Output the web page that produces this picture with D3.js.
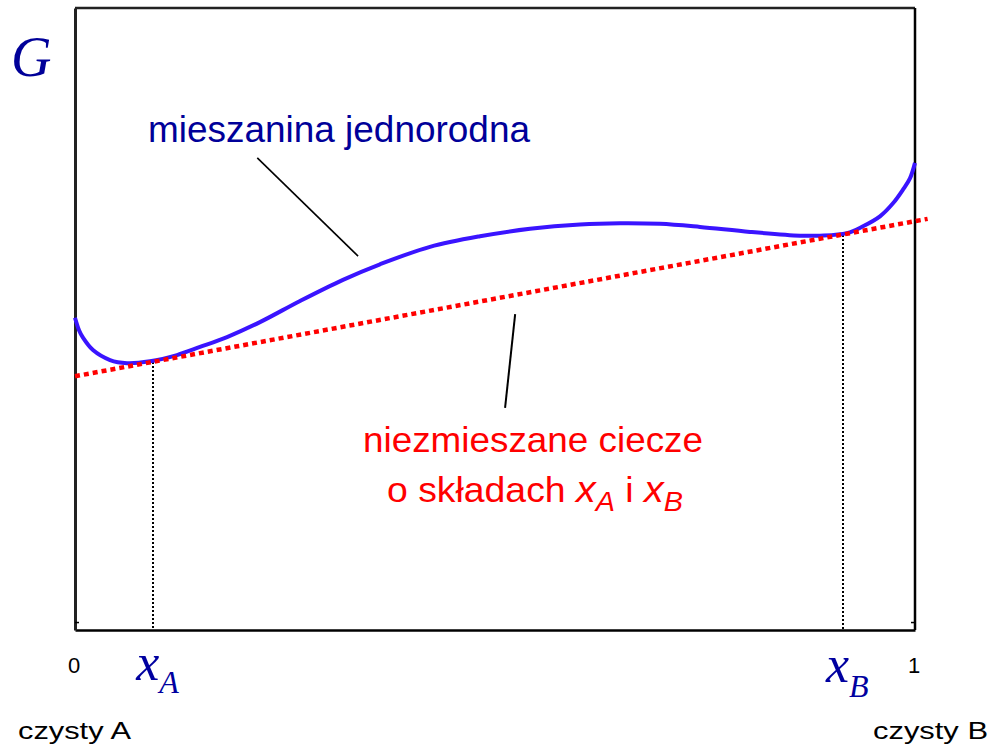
<!DOCTYPE html>
<html>
<head>
<meta charset="utf-8">
<script src="https://cdn.jsdelivr.net/npm/d3@7"></script>
<style>
  html, body { margin: 0; padding: 0; background: #fff; }
  svg { display: block; }
  text { font-family: "Liberation Sans", Arial, sans-serif; }
  .serif { font-family: "Liberation Serif", "Times New Roman", serif; font-style: italic; }
</style>
</head>
<body>
<svg id="chart" width="1003" height="747"></svg>
<script>
// Mole fraction of B (0 = pure A, 1 = pure B)
const compositions = [0, 0.0048, 0.0095, 0.0214, 0.0417, 0.0619, 0.0893, 0.1214, 0.1488,
  0.1810, 0.2202, 0.2679, 0.3190, 0.3631, 0.4226, 0.4821, 0.5417, 0.6012, 0.6488, 0.6964,
  0.7440, 0.8036, 0.8631, 0.8869, 0.9190, 0.9381, 0.9583, 0.9738, 0.9857, 0.9940, 1.0];
// Gibbs energy of the homogeneous mixture (arbitrary units)
const gibbsMixture = [5.02, 4.82, 4.70, 4.50, 4.34, 4.29, 4.32, 4.42, 4.55,
  4.71, 4.95, 5.29, 5.63, 5.88, 6.16, 6.33, 6.45, 6.52, 6.54, 6.53,
  6.48, 6.40, 6.34, 6.34, 6.38, 6.49, 6.65, 6.86, 7.08, 7.26, 7.51];
// Common tangent: two immiscible liquids of compositions xA and xB
const tangentX = [0, 1.015];
const tangentG = [4.08, 6.61];
const xA = 0.092;
const xB = 0.913;
const xTickLabels = ["0", "1"];

const svg = d3.select("#chart");
const plotLeft = 75, plotTop = 8, plotWidth = 840, plotHeight = 622;

const x = d3.scaleLinear().domain([0, 1]).range([plotLeft, plotLeft + plotWidth]);
const y = d3.scaleLinear().domain([0, 10]).range([plotTop + plotHeight, plotTop]);
const gAt = v => tangentG[0] + (tangentG[1] - tangentG[0]) * (v - tangentX[0]) / (tangentX[1] - tangentX[0]);

// Frame: axes plus closing lines
svg.append("g")
  .attr("transform", `translate(0,${y(0)})`)
  .call(d3.axisBottom(x).tickValues([]).tickSizeOuter(0))
  .call(g => g.select(".domain").attr("stroke", "#000").attr("stroke-width", 2.5));
svg.append("g")
  .attr("transform", `translate(${x(0)},0)`)
  .call(d3.axisLeft(y).tickValues([]).tickSizeOuter(0))
  .call(g => g.select(".domain").attr("stroke", "#222").attr("stroke-width", 3));
svg.append("line").attr("x1", x(0)).attr("x2", x(1)).attr("y1", y(10)).attr("y2", y(10))
  .attr("stroke", "#222").attr("stroke-width", 2.5);
svg.append("line").attr("x1", x(1)).attr("x2", x(1)).attr("y1", y(10)).attr("y2", y(0))
  .attr("stroke", "#000").attr("stroke-width", 2.5);
// small inner ticks at the ends of the composition axis
[0, 1].forEach(v => {
  svg.append("line").attr("x1", x(v)).attr("x2", x(v) + (v === 0 ? 4 : -4))
    .attr("y1", y(0.12)).attr("y2", y(0.12)).attr("stroke", "#000").attr("stroke-width", 1.5);
});

// Vertical dotted guides at the tangent points
[xA, xB].forEach(v => {
  const px = Math.round(x(v)) + 0.5;
  svg.append("line")
    .attr("x1", px).attr("x2", px)
    .attr("y1", y(gAt(v))).attr("y2", y(0))
    .attr("stroke", "#000").attr("stroke-width", 2)
    .attr("stroke-dasharray", "2,2")
    .attr("shape-rendering", "crispEdges");
});

// Homogeneous mixture curve
const pts = compositions.map((c, i) => [c, gibbsMixture[i]]);
svg.append("path")
  .datum(pts)
  .attr("fill", "none")
  .attr("stroke", "#3a14ff")
  .attr("stroke-width", 4)
  .attr("stroke-linejoin", "round")
  .attr("d", d3.line().x(d => x(d[0])).y(d => y(d[1])).curve(d3.curveCatmullRom.alpha(0.5)));

// Tangent (immiscible liquids) line
svg.append("line")
  .attr("x1", x(tangentX[0])).attr("y1", y(tangentG[0]))
  .attr("x2", x(tangentX[1])).attr("y2", y(tangentG[1]))
  .attr("stroke", "#ff0000").attr("stroke-width", 4.5)
  .attr("stroke-dasharray", "5,4");

// Leader lines
const leaders = [
  [[0.217, 7.59], [0.337, 6.01], 1.6],
  [[0.524, 5.08], [0.512, 3.57], 2]
];
leaders.forEach(([a, b, w]) => {
  svg.append("line")
    .attr("x1", x(a[0])).attr("y1", y(a[1]))
    .attr("x2", x(b[0])).attr("y2", y(b[1]))
    .attr("stroke", "#000").attr("stroke-width", w);
});

// Labels
svg.append("text").attr("class", "serif")
  .attr("x", 11).attr("y", 76)
  .attr("font-size", 56).attr("fill", "#000099").text("G");

svg.append("text")
  .attr("x", 148).attr("y", 142)
  .attr("font-size", 36).attr("fill", "#000099")
  .attr("textLength", 382).attr("lengthAdjust", "spacingAndGlyphs")
  .text("mieszanina jednorodna");

svg.append("text")
  .attr("x", 363).attr("y", 452)
  .attr("font-size", 35).attr("fill", "#ff0000")
  .attr("textLength", 340).attr("lengthAdjust", "spacingAndGlyphs")
  .text("niezmieszane ciecze");

const t2 = svg.append("text")
  .attr("x", 387).attr("y", 502)
  .attr("font-size", 35).attr("fill", "#ff0000")
  .attr("textLength", 296).attr("lengthAdjust", "spacingAndGlyphs");
t2.append("tspan").text("o składach ");
t2.append("tspan").attr("font-style", "italic").attr("font-size", 37).text("x");
t2.append("tspan").attr("font-style", "italic").attr("font-size", 27).attr("dy", 9).text("A");
t2.append("tspan").attr("dy", -9).text(" i ");
t2.append("tspan").attr("font-style", "italic").attr("font-size", 37).text("x");
t2.append("tspan").attr("font-style", "italic").attr("font-size", 27).attr("dy", 9).text("B");

// Composition axis tick labels
[[0, xTickLabels[0]], [1, xTickLabels[1]]].forEach(([v, s]) => {
  svg.append("text")
    .attr("x", x(v) - 1).attr("y", 673)
    .attr("text-anchor", "middle")
    .attr("font-size", 22).attr("fill", "#000").text(s);
});

// xA, xB labels
[[xA, "A", 680, 693], [xB, "B", 682, 697]].forEach(([v, sub, b1, b2]) => {
  const t = svg.append("text").attr("class", "serif")
    .attr("x", x(v) - 16).attr("y", b1).attr("fill", "#0000a0");
  t.append("tspan").attr("font-size", 52).text("x");
  t.append("tspan").attr("font-size", 32).attr("dy", b2 - b1).text(sub);
});

// Pure component labels
svg.append("text").attr("x", 18).attr("y", 739).attr("font-size", 24).attr("fill", "#000")
  .attr("textLength", 113).attr("lengthAdjust", "spacingAndGlyphs").text("czysty A");
svg.append("text").attr("x", 873).attr("y", 739).attr("font-size", 24).attr("fill", "#000")
  .attr("textLength", 115).attr("lengthAdjust", "spacingAndGlyphs").text("czysty B");
</script>
</body>
</html>
